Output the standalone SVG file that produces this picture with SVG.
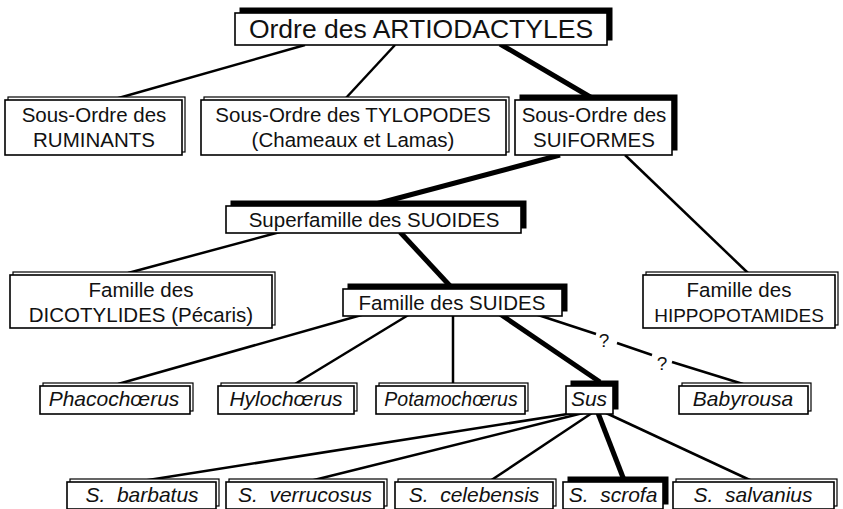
<svg xmlns="http://www.w3.org/2000/svg" width="843" height="509" viewBox="0 0 843 509">
<style>
.bk{fill:#fff;stroke:#000;stroke-width:1.2}
.fr{fill:#fff;stroke:#000;stroke-width:1.6}
.sh{fill:#000;stroke:#000;stroke-width:1}
.t{font-family:"Liberation Sans",Arial,sans-serif;font-size:20.5px;fill:#111;text-anchor:middle}
.n{font-size:20.5px}
.i{font-style:italic;font-size:21px}
.c{stroke:#000;stroke-width:2.5;fill:none}
.k{stroke:#000;stroke-width:5;fill:none}
</style>
<rect width="843" height="509" fill="#fff"/>
<g id="connectors">
<line class="c" x1="305" y1="45" x2="115" y2="99"/>
<line class="c" x1="395" y1="45" x2="345" y2="99"/>
<line class="k" x1="500" y1="44" x2="592" y2="98"/>
<line class="k" x1="560" y1="155" x2="372" y2="205"/>
<line class="c" x1="625" y1="155" x2="748" y2="273"/>
<line class="c" x1="280" y1="232" x2="128" y2="273"/>
<line class="k" x1="400" y1="232" x2="452" y2="288"/>
<line class="c" x1="365" y1="314" x2="118" y2="384"/>
<line class="c" x1="410" y1="314" x2="295" y2="384"/>
<line class="c" x1="453" y1="314" x2="453" y2="384"/>
<line class="k" x1="500" y1="314" x2="600" y2="382"/>
<line class="c" x1="535" y1="314" x2="596" y2="334"/>
<line class="c" x1="617" y1="343" x2="652" y2="355"/>
<line class="c" x1="672" y1="362" x2="743" y2="384"/>
<line class="c" x1="574" y1="413" x2="142" y2="481"/>
<line class="c" x1="583" y1="413" x2="310" y2="481"/>
<line class="c" x1="592" y1="413" x2="490" y2="481"/>
<line class="k" x1="598" y1="413" x2="624" y2="480"/>
<line class="c" x1="606" y1="413" x2="752" y2="481"/>
<text class="t" x="604" y="347" style="font-size:19px">?</text>
<text class="t" x="662" y="370" style="font-size:19px">?</text>
</g>
<g id="n-artiodactyles">
<rect class="sh" x="240" y="8" width="372" height="32"/>
<rect class="fr" x="235" y="13" width="372" height="32"/>
<text class="t" x="421" y="38" style="font-size:26.5px">Ordre des ARTIODACTYLES</text>
</g>
<g id="n-ruminants">
<rect class="bk" x="8" y="97" width="177" height="55"/>
<rect class="fr" x="5" y="100" width="177" height="55"/>
<text class="t" x="94" y="122">Sous-Ordre des</text>
<text class="t" x="94" y="147">RUMINANTS</text>
</g>
<g id="n-tylopodes">
<rect class="bk" x="204" y="97" width="305" height="55"/>
<rect class="fr" x="201" y="100" width="305" height="55"/>
<text class="t" x="353" y="122">Sous-Ordre des TYLOPODES</text>
<text class="t" x="353" y="147">(Chameaux et Lamas)</text>
</g>
<g id="n-suiformes">
<rect class="sh" x="520" y="95" width="157" height="55"/>
<rect class="fr" x="515" y="100" width="157" height="55"/>
<text class="t" x="594" y="122">Sous-Ordre des</text>
<text class="t" x="594" y="147">SUIFORMES</text>
</g>
<g id="n-suoides">
<rect class="sh" x="231" y="201" width="295" height="27"/>
<rect class="fr" x="226" y="206" width="295" height="27"/>
<text class="t n" x="374" y="227">Superfamille des SUOIDES</text>
</g>
<g id="n-dicotylides">
<rect class="bk" x="13" y="272" width="262" height="53"/>
<rect class="fr" x="10" y="275" width="262" height="53"/>
<text class="t n" x="141" y="297">Famille des</text>
<text class="t n" x="141" y="322">DICOTYLIDES (Pécaris)</text>
</g>
<g id="n-suides">
<rect class="sh" x="348" y="284" width="219" height="27"/>
<rect class="fr" x="343" y="289" width="219" height="27"/>
<text class="t n" x="452" y="310">Famille des SUIDES</text>
</g>
<g id="n-hippopotamides">
<rect class="bk" x="646" y="272" width="192" height="53"/>
<rect class="fr" x="643" y="275" width="192" height="53"/>
<text class="t n" x="739" y="297">Famille des</text>
<text class="t" x="739" y="322" style="font-size:19px">HIPPOPOTAMIDES</text>
</g>
<g id="n-phacochoerus">
<rect class="bk" x="43" y="383" width="150" height="28"/>
<rect class="fr" x="40" y="386" width="150" height="28"/>
<text class="t i" x="114" y="406">Phacochœrus</text>
</g>
<g id="n-hylochoerus">
<rect class="bk" x="221" y="383" width="136" height="28"/>
<rect class="fr" x="218" y="386" width="136" height="28"/>
<text class="t i" x="286" y="406">Hylochœrus</text>
</g>
<g id="n-potamochoerus">
<rect class="bk" x="379" y="383" width="149" height="28"/>
<rect class="fr" x="376" y="386" width="149" height="28"/>
<text class="t i" x="451" y="406" style="font-size:19.5px">Potamochœrus</text>
</g>
<g id="n-sus">
<rect class="sh" x="571" y="381" width="47" height="28"/>
<rect class="fr" x="566" y="386" width="47" height="28"/>
<text class="t i" x="589" y="406">Sus</text>
</g>
<g id="n-babyrousa">
<rect class="bk" x="682" y="383" width="129" height="28"/>
<rect class="fr" x="679" y="386" width="129" height="28"/>
<text class="t i" x="743" y="406">Babyrousa</text>
</g>
<g id="n-barbatus">
<rect class="bk" x="70" y="479" width="149" height="27"/>
<rect class="fr" x="67" y="482" width="149" height="27"/>
<text class="t i" x="142" y="502" xml:space="preserve">S.  barbatus</text>
</g>
<g id="n-verrucosus">
<rect class="bk" x="229" y="479" width="158" height="27"/>
<rect class="fr" x="226" y="482" width="158" height="27"/>
<text class="t i" x="305" y="502" xml:space="preserve">S.  verrucosus</text>
</g>
<g id="n-celebensis">
<rect class="bk" x="398" y="479" width="158" height="27"/>
<rect class="fr" x="395" y="482" width="158" height="27"/>
<text class="t i" x="474" y="502" xml:space="preserve">S.  celebensis</text>
</g>
<g id="n-scrofa">
<rect class="sh" x="568" y="477" width="100" height="27"/>
<rect class="fr" x="563" y="482" width="100" height="27"/>
<text class="t i" x="613" y="502" xml:space="preserve">S.  scrofa</text>
</g>
<g id="n-salvanius">
<rect class="bk" x="676" y="479" width="161" height="27"/>
<rect class="fr" x="673" y="482" width="161" height="27"/>
<text class="t i" x="753" y="502" xml:space="preserve">S.  salvanius</text>
</g>
</svg>
